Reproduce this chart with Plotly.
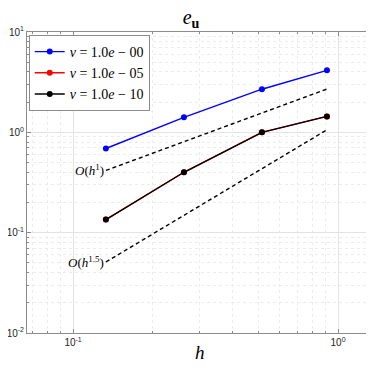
import numpy as np
import plotly.graph_objects as go

h = [0.133, 0.262, 0.516, 0.908]
err_nu0 = [0.69, 1.41, 2.69, 4.15]
err_nu5 = [0.135, 0.40, 1.0, 1.44]
err_nu10 = [0.135, 0.40, 1.0, 1.44]
names = ["<i>ν</i> = 1.0<i>e</i> − 00", "<i>ν</i> = 1.0<i>e</i> − 05", "<i>ν</i> = 1.0<i>e</i> − 10"]

# reference slopes
ref_h = [0.133, 0.908]
ref_o1 = [0.417, 2.70]
ref_o15 = [0.051, 1.06]

serif = "Liberation Serif"
sans = "Liberation Sans"

fig = go.Figure()
for y, nm, col in [(err_nu0, names[0], "#0000ff"), (err_nu5, names[1], "#ff0000"), (err_nu10, names[2], "#000000")]:
    fig.add_trace(go.Scatter(x=h, y=y, name=nm, mode="lines+markers",
                             line=dict(color=col, width=1.4),
                             marker=dict(symbol="circle", size=6, color=col)))
for yy in [ref_o1, ref_o15]:
    fig.add_trace(go.Scatter(x=ref_h, y=yy, mode="lines", showlegend=False,
                             line=dict(color="black", width=1.4, dash="4px,3px")))

fig.add_annotation(x=np.log10(ref_h[0]), y=np.log10(ref_o1[0]), text="<i>O</i>(<i>h</i><sup>1</sup>)",
                   showarrow=False, xanchor="right", yanchor="middle",
                   font=dict(family=serif, size=13, color="black"))
fig.add_annotation(x=np.log10(ref_h[0]), y=np.log10(ref_o15[0]), text="<i>O</i>(<i>h</i><sup>1.5</sup>)",
                   showarrow=False, xanchor="right", yanchor="middle",
                   font=dict(family=serif, size=13, color="black"))
fig.add_annotation(x=0.5, y=-0.066, xref="paper", yref="paper", text="<i>h</i>",
                   showarrow=False, xanchor="center", yanchor="middle",
                   font=dict(family=serif, size=19, color="black"))

def minor_vals(lo, hi):
    return [m * 10.0 ** p for p in range(lo, hi) for m in range(2, 10)]

axis_common = dict(type="log", showline=True, linecolor="#8c8c8c", linewidth=1, mirror="ticks",
                   ticks="inside", ticklen=4, tickcolor="#8c8c8c", automargin=False,
                   showgrid=True, gridcolor="#e3e3e3", gridwidth=1, zeroline=False,
                   tickfont=dict(family=sans, size=10, color="#262626"))

fig.update_xaxes(range=[np.log10(0.067), np.log10(1.355)],
                 tickvals=[0.1, 1], ticktext=["10<sup>-1</sup>", "10<sup>0</sup>"],
                 minor=dict(tickvals=minor_vals(-2, 1), showgrid=True, gridcolor="#ececec", griddash="dot",
                            ticks="inside", ticklen=2, tickcolor="#8c8c8c"),
                 **axis_common)
fig.update_yaxes(range=[-2, 1],
                 tickvals=[0.01, 0.1, 1, 10],
                 ticktext=["10<sup>-2</sup>", "10<sup>-1</sup>", "10<sup>0</sup>", "10<sup>1</sup>"],
                 minor=dict(tickvals=minor_vals(-2, 1), showgrid=True, gridcolor="#ececec", griddash="dot",
                            ticks="inside", ticklen=2, tickcolor="#8c8c8c"),
                 **axis_common)

fig.update_layout(
    width=366, height=366,
    margin=dict(l=19, r=1, t=24, b=41),
    plot_bgcolor="white", paper_bgcolor="white",
    title=dict(text="<i>e</i><sub><b>u</b></sub>", x=0.5, xanchor="center", y=0.975, yanchor="middle",
               font=dict(family=serif, size=20, color="black")),
    legend=dict(x=0.005, y=0.99, xanchor="left", yanchor="top",
                bgcolor="white", bordercolor="#8c8c8c", borderwidth=1,
                font=dict(family=serif, size=14, color="black"),
                tracegroupgap=0, itemwidth=30),
)

fig.write_html("out.html")
